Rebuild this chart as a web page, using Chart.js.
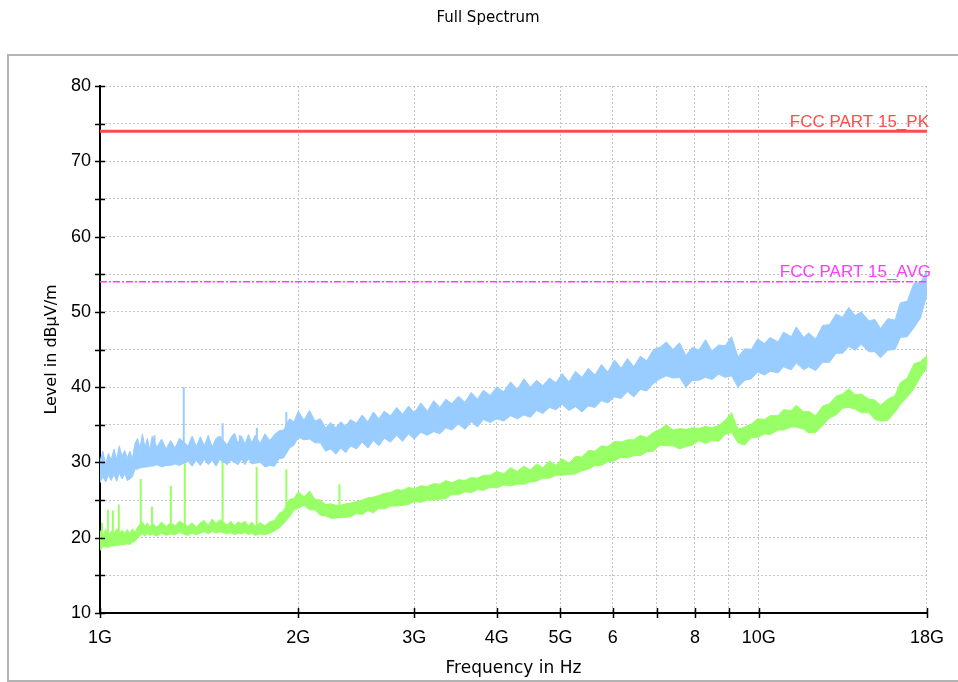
<!DOCTYPE html>
<html>
<head>
<meta charset="utf-8">
<script src="https://cdn.jsdelivr.net/npm/chart.js@4.4.1/dist/chart.umd.min.js"></script>
<style>
  html, body { margin: 0; padding: 0; background: #fff; }
  canvas { display: block; }
</style>
</head>
<body>
<canvas id="spectrum" width="958" height="682"></canvas>
<script>
// sweep frequencies in GHz
const freqGHz = [
  1.00, 1.01, 1.02, 1.03, 1.04, 1.05, 1.06, 1.07, 1.08, 1.09,
  1.10, 1.11, 1.12, 1.13, 1.14, 1.15, 1.16, 1.17, 1.18, 1.19,
  1.20, 1.22, 1.24, 1.26, 1.28, 1.30, 1.32, 1.36, 1.38, 1.40,
  1.42, 1.44, 1.46, 1.48, 1.50, 1.52, 1.56, 1.58, 1.60, 1.62,
  1.64, 1.66, 1.68, 1.70, 1.72, 1.75, 1.78, 1.81, 1.84, 1.87,
  1.90, 1.94, 1.97, 2.00, 2.04, 2.08, 2.12, 2.16, 2.20, 2.24,
  2.28, 2.32, 2.36, 2.40, 2.45, 2.50, 2.55, 2.60, 2.65, 2.70,
  2.76, 2.82, 2.88, 2.94, 3.00, 3.07, 3.14, 3.21, 3.28, 3.35,
  3.42, 3.50, 3.58, 3.66, 3.74, 3.82, 3.91, 4.00, 4.10, 4.20,
  4.30, 4.40, 4.50, 4.60, 4.70, 4.81, 4.92, 5.03, 5.15, 5.27,
  5.39, 5.51, 5.64, 5.77, 5.90, 6.04, 6.18, 6.32, 6.46, 6.61,
  6.76, 6.92, 7.08, 7.24, 7.41, 7.58, 7.75, 7.93, 8.11, 8.30,
  8.49, 8.69, 8.89, 9.09, 9.30, 9.52, 9.74, 9.96, 10.2, 10.4,
  10.7, 10.9, 11.2, 11.4, 11.7, 11.9, 12.2, 12.5, 12.8, 13.1,
  13.4, 13.7, 14.0, 14.3, 14.7, 15.0, 15.3, 15.7, 16.1, 16.4,
  16.8, 17.2, 17.6, 18.0
];

// peak detector trace: lower / upper edge of the noise band (dBuV/m)
const peakLo = [
  27.3, 28.1, 27.4, 28.3, 27.6, 28.4, 27.5, 28.6, 27.8, 28.5,
  27.6, 27.8, 28.1, 29.1, 29.1, 29.3, 29.3, 29.4, 29.4, 29.5,
  29.5, 29.7, 29.4, 29.6, 29.6, 29.8, 29.6, 30.2, 29.5, 30.3,
  29.6, 30.4, 29.7, 30.3, 29.5, 30.4, 29.7, 30.3, 30.0, 29.7,
  30.4, 29.7, 30.5, 29.8, 29.9, 30.0, 29.4, 29.6, 29.5, 30.5,
  30.6, 31.9, 32.3, 33.3, 33.0, 33.1, 32.6, 32.6, 31.5, 31.8,
  31.1, 31.9, 31.3, 32.2, 31.8, 32.7, 31.9, 32.9, 32.2, 33.2,
  32.7, 33.6, 32.8, 33.8, 33.1, 34.0, 33.6, 34.1, 33.8, 34.6,
  34.3, 35.1, 34.4, 35.4, 34.7, 35.7, 35.3, 35.8, 35.5, 36.2,
  35.8, 36.3, 36.0, 36.9, 36.5, 37.3, 37.0, 37.7, 36.9, 37.4,
  36.7, 37.5, 37.3, 38.2, 37.9, 38.7, 38.5, 39.4, 38.7, 39.7,
  39.5, 40.5, 41.1, 41.5, 41.2, 41.3, 40.0, 40.9, 40.9, 41.3,
  41.0, 41.7, 41.3, 41.5, 40.0, 40.9, 41.1, 42.0, 41.6, 42.1,
  41.9, 42.7, 42.3, 43.2, 42.3, 42.7, 42.2, 43.3, 43.3, 44.5,
  44.5, 45.4, 44.9, 45.7, 44.7, 44.7, 43.9, 44.9, 45.0, 46.6,
  46.7, 47.9, 49.2, 52.3
];
const peakHi = [
  30.2, 31.5, 29.8, 31.2, 30.3, 31.8, 30.4, 32.2, 30.8, 31.6,
  30.6, 31.5, 30.5, 32.5, 33.2, 31.9, 33.8, 32.0, 33.2, 31.7,
  33.5, 32.0, 33.1, 31.8, 32.9, 31.9, 33.2, 32.2, 33.5, 32.1,
  33.4, 32.2, 33.6, 32.0, 33.2, 33.5, 32.3, 33.3, 33.9, 32.5,
  33.5, 32.4, 33.7, 32.6, 33.6, 32.5, 33.8, 32.9, 33.7, 34.2,
  34.3, 35.8, 35.4, 36.8, 35.6, 36.9, 35.5, 35.8, 34.6, 35.3,
  34.6, 35.4, 34.8, 35.7, 35.2, 36.3, 35.4, 36.7, 35.8, 36.8,
  36.2, 37.3, 36.4, 37.5, 36.6, 37.9, 36.8, 38.2, 37.3, 38.4,
  37.8, 38.8, 38.0, 39.3, 38.4, 39.6, 38.9, 40.0, 39.4, 40.7,
  39.7, 41.1, 40.0, 40.9, 40.2, 41.2, 40.6, 41.8, 40.7, 42.1,
  41.3, 42.5, 41.6, 43.0, 42.0, 43.6, 42.5, 43.8, 42.7, 44.1,
  43.5, 45.0, 45.3, 46.0, 45.0, 45.9, 44.2, 45.3, 44.9, 46.3,
  44.8, 45.6, 45.5, 46.7, 44.0, 45.1, 45.0, 46.4, 45.8, 46.6,
  46.0, 47.3, 46.7, 48.0, 46.6, 47.2, 46.4, 48.2, 48.3, 49.7,
  49.3, 50.6, 49.5, 50.0, 48.8, 49.0, 47.8, 49.1, 48.9, 51.2,
  51.4, 53.8, 53.9, 55.5
];

// average detector trace
const avgLo = [
  18.3, 18.8, 18.8, 18.7, 18.9, 18.9, 19.0, 19.0, 19.1, 19.1,
  19.2, 19.1, 19.4, 19.5, 19.9, 20.3, 20.5, 20.2, 20.6, 20.3,
  20.5, 20.2, 20.6, 20.3, 20.5, 20.4, 20.7, 20.3, 20.6, 20.4,
  20.6, 20.8, 20.5, 20.9, 20.6, 20.8, 20.5, 20.7, 20.4, 20.6,
  20.5, 20.7, 20.4, 20.6, 20.3, 20.5, 20.4, 20.6, 20.9, 21.3,
  21.9, 22.8, 23.7, 23.9, 24.3, 23.7, 23.7, 23.0, 22.9, 22.6,
  22.6, 22.7, 22.7, 22.8, 23.2, 23.1, 23.6, 23.3, 23.9, 23.8,
  24.2, 24.2, 24.3, 24.4, 24.8, 24.7, 25.0, 25.0, 25.1, 25.2,
  25.7, 25.7, 26.1, 26.0, 26.4, 26.3, 26.7, 26.6, 27.0, 26.9,
  27.1, 27.1, 27.4, 27.5, 27.9, 27.9, 28.3, 28.3, 28.4, 28.5,
  28.9, 29.1, 29.6, 29.6, 30.1, 30.2, 30.7, 30.6, 30.9, 30.9,
  31.4, 31.5, 32.3, 32.2, 32.2, 31.8, 32.1, 32.3, 32.9, 32.5,
  32.9, 32.8, 33.7, 34.0, 32.6, 32.3, 33.3, 33.3, 33.8, 33.7,
  34.3, 34.3, 34.7, 34.7, 34.4, 33.9, 34.0, 34.9, 35.9, 36.3,
  37.2, 37.3, 37.1, 36.6, 36.6, 35.7, 35.5, 35.6, 36.7, 37.7,
  38.7, 39.8, 41.4, 42.5
];
const avgHi = [
  21.0, 20.2, 21.1, 20.3, 20.9, 20.4, 21.2, 20.5, 21.0, 20.6,
  21.1, 20.6, 21.2, 20.7, 21.4, 21.8, 22.1, 21.5, 22.0, 21.4,
  21.9, 21.4, 22.1, 21.5, 22.0, 21.6, 22.2, 21.5, 22.0, 21.4,
  22.0, 22.3, 21.6, 22.5, 21.9, 22.4, 21.7, 22.2, 21.6, 22.1,
  21.9, 22.2, 21.6, 22.1, 21.5, 22.0, 21.6, 22.1, 22.3, 23.2,
  23.6, 25.1, 25.2, 26.1, 25.4, 26.2, 25.1, 25.0, 24.4, 24.5,
  24.3, 24.3, 24.5, 24.6, 24.8, 25.0, 25.3, 25.4, 25.6, 25.9,
  26.0, 26.4, 26.3, 26.7, 26.5, 26.9, 26.8, 27.2, 27.1, 27.6,
  27.3, 27.7, 27.6, 28.0, 27.9, 28.3, 28.3, 28.8, 28.5, 29.3,
  28.8, 29.5, 29.0, 29.8, 29.3, 30.2, 29.6, 30.5, 29.9, 30.8,
  30.7, 31.6, 31.5, 32.2, 32.1, 32.8, 32.7, 33.0, 33.0, 33.6,
  33.3, 34.0, 34.4, 35.0, 34.3, 34.5, 34.4, 34.6, 34.5, 34.8,
  34.6, 34.9, 35.6, 36.6, 34.4, 34.7, 35.1, 35.8, 35.7, 36.2,
  36.2, 37.0, 36.9, 37.6, 36.7, 36.8, 36.2, 37.5, 37.8, 38.8,
  39.1, 39.8, 39.0, 39.1, 38.4, 38.3, 37.6, 38.4, 38.9, 40.6,
  41.2, 43.1, 43.4, 44.2
];

// narrow spurious peaks riding on the noise floor
const peakSpikeFreq = [1.21, 1.34, 1.535, 1.63, 1.73, 1.918];
const peakSpikeBase = [31.5, 31.5, 31.5, 31.5, 31.5, 33.0];
const peakSpikeTop  = [33.6, 40.0, 35.2, 33.6, 34.6, 36.7];

const avgSpikeFreq = [1.007, 1.028, 1.046, 1.068, 1.153, 1.199, 1.281, 1.345, 1.535, 1.729, 1.918, 2.309];
const avgSpikeBase = [20.0, 20.0, 20.0, 20.0, 21.0, 21.0, 21.0, 21.0, 21.0, 21.0, 22.5, 23.5];
const avgSpikeTop  = [22.0, 23.7, 23.6, 24.4, 27.8, 24.1, 26.9, 29.9, 30.3, 29.4, 29.1, 27.1];

// FCC Part 15 limits above 1 GHz
const limitPk = 74;
const limitAvg = 54;

const xTickValues = [1, 2, 3, 4, 5, 6, 7, 8, 9, 10, 18];
const xTickLabels = ['1G', '2G', '3G', '4G', '5G', '6', '', '8', '', '10G', '18G'];

const BLUE = '#99ccff';
const GREEN = '#99ff66';
const RED = '#ff4b4b';
const MAGENTA = '#ff3cff';

const band = (lev) => freqGHz.map((f, i) => ({ x: f, y: lev[i] }));
const spikes = (fs, base, top) => fs.flatMap((f, i) => [
  { x: f, y: base[i] }, { x: f, y: top[i] }, { x: f, y: null }
]);
const flat = (v) => [{ x: 1, y: v }, { x: 18, y: v }];

const tickFont = { family: 'Liberation Sans', size: 18 };

// gray frame, title, crossing tick marks and limit captions
const decor = {
  id: 'decor',
  beforeDraw(chart) {
    const c = chart.ctx;
    c.save();
    c.fillStyle = '#fff';
    c.fillRect(0, 0, chart.width, chart.height);
    c.strokeStyle = '#b3b3b3';
    c.lineWidth = 2;
    c.strokeRect(8, 55, 960, 626);
    c.fillStyle = '#000';
    c.font = '15px "DejaVu Sans"';
    c.textAlign = 'center';
    c.textBaseline = 'middle';
    c.fillText('Full Spectrum', 488, 18);
    c.restore();
  },
  afterDraw(chart) {
    const c = chart.ctx;
    const { x, y } = chart.scales;
    const area = chart.chartArea;
    c.save();
    c.strokeStyle = '#000';
    c.lineWidth = 1.5;
    c.beginPath();
    y.ticks.forEach(t => {
      const py = Math.round(y.getPixelForValue(t.value)) + 0.5;
      c.moveTo(area.left - 5, py);
      c.lineTo(area.left + 5, py);
    });
    x.ticks.forEach(t => {
      const px = Math.round(x.getPixelForValue(t.value)) + 0.5;
      c.moveTo(px, area.bottom - 5);
      c.lineTo(px, area.bottom + 5);
    });
    c.stroke();

    c.font = '17px "Liberation Sans"';
    c.textAlign = 'right';
    c.textBaseline = 'alphabetic';
    c.fillStyle = RED;
    c.fillText('FCC PART 15_PK', area.right + 2, y.getPixelForValue(limitPk) - 4);
    c.fillStyle = MAGENTA;
    c.fillText('FCC PART 15_AVG', area.right + 4, y.getPixelForValue(limitAvg) - 5);
    c.restore();
  }
};

new Chart(document.getElementById('spectrum'), {
  type: 'line',
  data: {
    datasets: [
      { data: flat(limitPk), borderColor: RED, borderWidth: 3, pointRadius: 0, fill: false },
      { data: flat(limitAvg), borderColor: MAGENTA, borderWidth: 1.3, borderDash: [7, 2, 2, 2], pointRadius: 0, fill: false },
      { data: band(peakHi), borderColor: BLUE, backgroundColor: BLUE, borderWidth: 1, pointRadius: 0, fill: '+1' },
      { data: band(peakLo), borderColor: BLUE, borderWidth: 1, pointRadius: 0, fill: false },
      { data: spikes(peakSpikeFreq, peakSpikeBase, peakSpikeTop), borderColor: BLUE, borderWidth: 2, pointRadius: 0, fill: false },
      { data: band(avgHi), borderColor: GREEN, backgroundColor: GREEN, borderWidth: 1, pointRadius: 0, fill: '+1' },
      { data: band(avgLo), borderColor: GREEN, borderWidth: 1, pointRadius: 0, fill: false },
      { data: spikes(avgSpikeFreq, avgSpikeBase, avgSpikeTop), borderColor: GREEN, borderWidth: 2, pointRadius: 0, fill: false }
    ]
  },
  options: {
    responsive: false,
    animation: false,
    layout: { padding: { left: 0, right: 29, top: 86, bottom: 0 } },
    plugins: { legend: { display: false }, tooltip: { enabled: false }, title: { display: false } },
    scales: {
      x: {
        type: 'logarithmic',
        min: 1,
        max: 18,
        afterBuildTicks: s => { s.ticks = xTickValues.map(v => ({ value: v })); },
        afterFit: s => { s.height = 69; },
        ticks: {
          autoSkip: false,
          maxRotation: 0,
          padding: 14,
          color: '#000',
          font: tickFont,
          callback: (v, i) => xTickLabels[i]
        },
        grid: { drawTicks: false, color: '#c4c4c4', lineWidth: 1 },
        border: { display: true, color: '#000', width: 2, dash: [2, 2] },
        title: {
          display: true,
          text: 'Frequency in Hz',
          color: '#000',
          font: { family: 'DejaVu Sans', size: 17 },
          padding: { top: 0, bottom: 3 }
        }
      },
      y: {
        min: 10,
        max: 80,
        afterFit: s => { s.width = 100; },
        ticks: {
          stepSize: 5,
          padding: 9,
          color: '#000',
          font: tickFont,
          callback: v => (v % 10 === 0 ? v : '')
        },
        grid: { drawTicks: false, color: '#c4c4c4', lineWidth: 1 },
        border: { display: true, color: '#000', width: 2, dash: [2, 2] },
        title: {
          display: true,
          text: 'Level in dBμV/m',
          color: '#000',
          font: { family: 'DejaVu Sans', size: 16 },
          padding: { top: 42, bottom: 0 }
        }
      }
    }
  },
  plugins: [decor]
});
</script>
</body>
</html>
